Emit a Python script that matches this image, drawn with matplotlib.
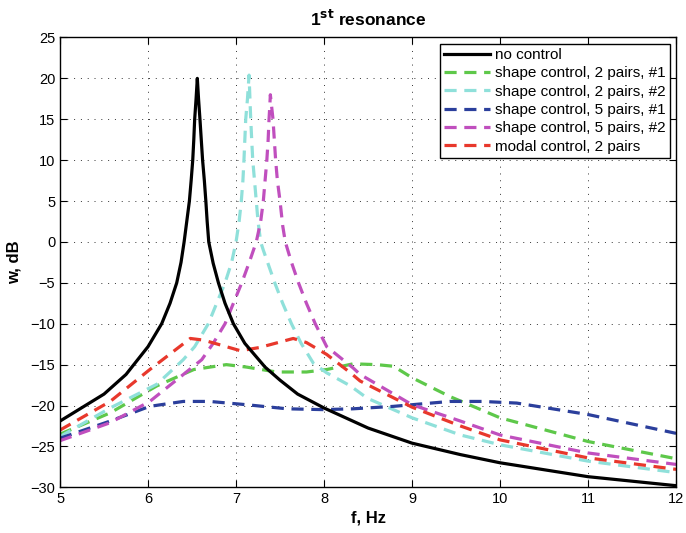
import matplotlib
matplotlib.use("Agg")
import matplotlib.pyplot as plt

plt.rcParams['font.family'] = ['Liberation Sans', 'DejaVu Sans']

# no control
f_none = [5.0, 5.5, 5.75, 6.0, 6.155, 6.25, 6.326, 6.375, 6.41, 6.44, 6.47, 6.49,
          6.508, 6.52, 6.53, 6.546, 6.56, 6.574, 6.59, 6.605, 6.62, 6.64, 6.657, 6.672,
          6.69, 6.74, 6.8, 6.875, 6.97, 7.1, 7.33, 7.5, 7.7, 8.0, 8.5, 9.0,
          9.55, 10.0, 11.0, 12.0]
w_none = [-21.9, -18.6, -16.2, -12.8, -10.0, -7.5, -5.0, -2.5, 0.0, 2.5, 5.0, 7.5,
          10.0, 12.5, 15.0, 17.5, 20.0, 17.5, 15.0, 12.5, 10.0, 7.5, 5.0, 2.5,
          0.0, -2.6, -5.0, -7.5, -10.0, -12.4, -15.3, -16.9, -18.6, -20.3, -22.75, -24.6,
          -26.0, -27.0, -28.7, -29.8]

# shape control, 2 pairs, #1
f_s2a = [5.0, 5.57, 6.1, 6.52, 6.89, 7.12, 7.46, 7.8, 8.03, 8.33, 8.6, 8.79, 9.0,
         9.43, 10.0, 11.0, 12.0]
w_s2a = [-23.5, -20.9, -17.6, -15.6, -15.0, -15.3, -15.9, -15.9, -15.6, -14.9, -15.0,
         -15.2, -16.6, -18.9, -21.5, -24.4, -26.5]

# shape control, 2 pairs, #2
f_s2b = [5.0, 5.57, 6.1, 6.4, 6.53, 6.685, 6.78, 6.875, 6.95, 7.0, 7.035, 7.06, 7.078,
         7.09, 7.10, 7.11, 7.13, 7.148, 7.158, 7.167, 7.178, 7.19, 7.21, 7.23, 7.25,
         7.28, 7.31, 7.44, 7.53, 7.63, 7.74, 7.88, 8.03, 8.3, 8.49, 9.0, 9.55, 10.0,
         11.0, 12.0]
w_s2b = [-23.8, -20.3, -17.4, -14.4, -12.8, -10.0, -7.5, -5.0, -2.5, 0.0, 2.5, 5.0, 7.5,
         10.0, 12.5, 15.0, 17.5, 20.4, 17.5, 15.0, 12.5, 10.0, 7.5, 5.0, 2.5,
         0.0, -1.0, -5.0, -7.5, -10.0, -12.4, -14.85, -16.0, -17.6, -19.1, -21.5, -23.6,
         -24.8, -26.8, -28.2]

# shape control, 5 pairs, #1
f_s5a = [5.0, 5.57, 6.02, 6.4, 6.7, 7.12, 7.58, 7.99, 8.33, 8.79, 9.0, 9.43, 9.8,
         10.19, 11.0, 12.0]
w_s5a = [-24.0, -21.9, -20.1, -19.5, -19.5, -19.9, -20.4, -20.5, -20.4, -20.1, -19.9,
         -19.5, -19.5, -19.7, -21.1, -23.4]

# shape control, 5 pairs, #2
f_s5b = [5.0, 5.57, 6.02, 6.61, 6.74, 6.875, 6.97, 7.065, 7.15, 7.23, 7.28, 7.31, 7.33,
         7.35, 7.365, 7.375, 7.383, 7.39, 7.405, 7.42, 7.435, 7.45, 7.47, 7.5, 7.53,
         7.56, 7.63, 7.71, 7.8, 7.9, 8.03, 8.33, 8.41, 9.0, 9.55, 10.0, 11.0, 12.0]
w_s5b = [-24.3, -22.1, -19.5, -14.4, -12.4, -10.0, -7.5, -5.0, -2.5, 0.0, 2.5, 5.0, 7.5,
         10.0, 12.5, 15.0, 16.5, 18.0, 16.5, 15.0, 12.5, 10.0, 7.5, 5.0, 2.0,
         0.0, -2.5, -5.0, -7.5, -10.0, -12.8, -15.4, -16.2, -19.9, -21.9, -23.6, -25.8, -27.2]

# modal control, 2 pairs
f_mod = [5.0, 5.57, 6.02, 6.48, 6.63, 7.05, 7.27, 7.65, 7.8, 8.03, 8.3, 8.41, 9.0,
         9.55, 10.0, 11.0, 12.0]
w_mod = [-23.0, -19.5, -15.6, -11.8, -12.0, -13.3, -12.9, -11.8, -12.3, -13.75, -16.0,
         -17.0, -20.2, -22.5, -24.2, -26.4, -27.8]

labels = ["no control", "shape control, 2 pairs, #1", "shape control, 2 pairs, #2",
          "shape control, 5 pairs, #1", "shape control, 5 pairs, #2",
          "modal control, 2 pairs"]
colors = ["black", "#5ec84a", "#8fe0da", "#2b3f9c", "#c04fbe", "#e8382c"]

fig = plt.figure(figsize=(6.86, 5.33), dpi=100)
ax = fig.add_axes([0.0875, 0.0857, 0.898, 0.844])

series = [(f_none, w_none), (f_s2a, w_s2a), (f_s2b, w_s2b),
          (f_s5a, w_s5a), (f_s5b, w_s5b), (f_mod, w_mod)]
for i, (f, w) in enumerate(series):
    if i == 0:
        ax.plot(f, w, color=colors[i], lw=2.3, label=labels[i], zorder=3)
    else:
        ax.plot(f, w, color=colors[i], lw=2.3, dashes=(3.8, 2.4), label=labels[i])

ax.set_xlim(5, 12)
ax.set_ylim(-30, 25)
ax.set_xticks(range(5, 13))
ax.set_yticks(range(-30, 26, 5))
ax.set_yticklabels([str(v).replace('-', '\u2212') for v in range(-30, 26, 5)])
ax.tick_params(direction='in', top=True, right=True, labelsize=10.5, length=5)
ax.grid(True, linestyle=(0, (1, 6)), color='#333333', lw=0.7)
for s in ax.spines.values():
    s.set_linewidth(1.0)

ax.set_title("1$^{\\mathbf{st}}$ resonance", fontsize=12.5, fontweight='bold', pad=8)
ax.set_xlabel("f, Hz", fontsize=12, fontweight='bold', labelpad=3)
ax.set_ylabel("w, dB", fontsize=12, fontweight='bold', labelpad=6)

leg = ax.legend(loc='upper right', fontsize=11, handlelength=3.0, fancybox=False,
                framealpha=1, edgecolor='black', borderaxespad=0.4,
                labelspacing=0.28, handletextpad=0.3, borderpad=0.3)
leg.get_frame().set_linewidth(1.0)

plt.savefig("out.png", dpi=100)
